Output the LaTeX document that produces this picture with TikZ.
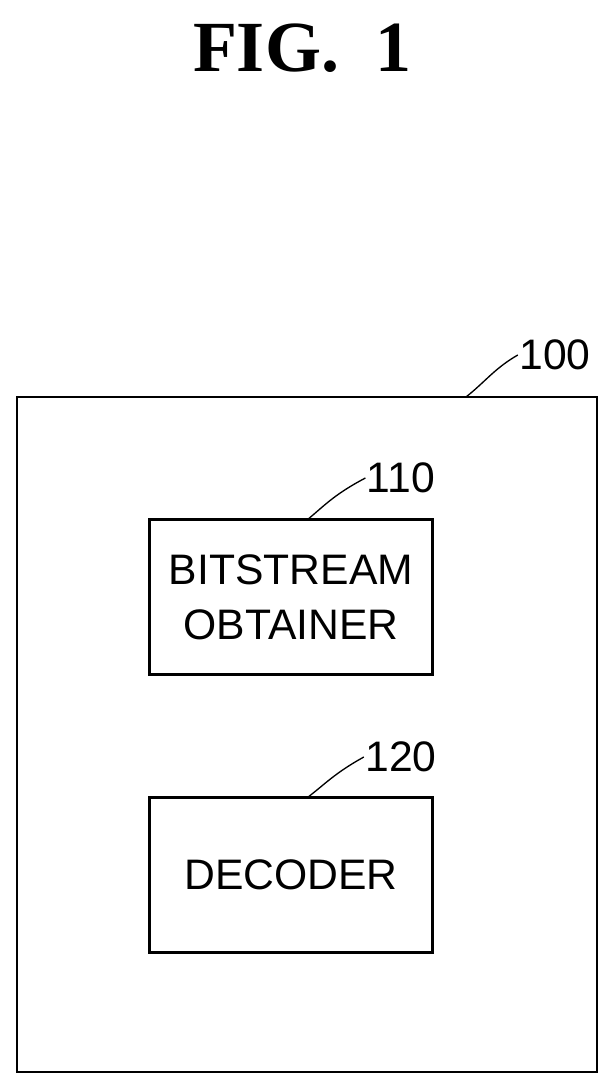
\documentclass[tikz,border=0pt]{standalone}
\usepackage{fontspec}
\setmainfont{Liberation Sans}
\newfontfamily\figfont{Liberation Serif}
\usetikzlibrary{positioning}

\begin{document}
\begin{tikzpicture}[
    x=0.75pt, y=-0.75pt,
    unitbox/.style={rectangle, draw, line width=2pt, minimum width=212pt, minimum height=116pt, align=center, font=\fontsize{32}{41}\selectfont},
    refnum/.style={font=\fontsize{32}{36}\selectfont, inner sep=1pt},
    leader/.style={line width=1pt}
]
\useasboundingbox (0,0) rectangle (615,1091);
% Title
\node[font=\figfont\bfseries\fontsize{54}{58}\selectfont] (title) at (302,48) {FIG.\ \ 1};
% Outer device
\draw[line width=2pt] (17,397) rectangle (597,1072);
\coordinate (devtip) at (466,397);
\node[refnum] (devnum) at (555,355) {100};
\draw[leader] (devtip) .. controls (485,382) and (495,368) .. (devnum.west);
% Units
\node[unitbox] (obtainer) at (291,597) {BITSTREAM\\OBTAINER};
\node[unitbox] (decoder) at (291,875) {DECODER};
\node[refnum] (obtnum) at (401,478) {110};
\node[refnum] (decnum) at (401,757) {120};
\draw[leader] (obtainer.north) ++(18,0) coordinate (obttip) .. controls (325,505) and (335,494) .. (obtnum.west);
\draw[leader] (decoder.north) ++(18,0) coordinate (dectip) .. controls (325,784) and (335,773) .. (decnum.west);
\end{tikzpicture}
\end{document}
